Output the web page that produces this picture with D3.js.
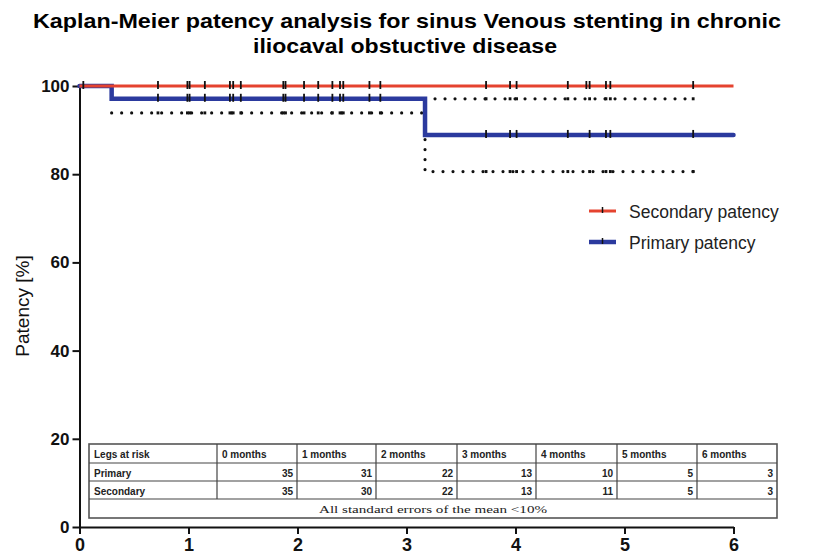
<!DOCTYPE html>
<meta charset="utf-8">
<title>Kaplan-Meier patency</title>
<style>
body { margin: 0; background: white; font-family: Arial, "Liberation Sans", sans-serif; }
svg { display: block; }
.axis path, .axis line { stroke: #111; stroke-width: 2px; }
.axis text { font-weight: bold; fill: #111; }
</style>
<body>
<div id="chart"></div>
<script src="https://d3js.org/d3.v7.min.js"></script>
<script>

// data
var monthTicks = [0, 1, 2, 3, 4, 5, 6];
var patencyTicks = [0, 20, 40, 60, 80, 100];

// step curves: time (months) where the value starts
var secondaryTimes = [0, 6];
var secondaryValues = [100, 100];
var primaryTimes = [0, 0.295, 3.17, 6];
var primaryValues = [100, 97.1, 88.9, 88.9];

// 95% CI of primary curve
var lowerTimes = [0.295, 3.17, 5.63];
var lowerValues = [93.9, 80.6, 80.6];
var upperTimes = [3.17, 5.63];
var upperValues = [97.1, 97.1];

// censored cases (months)
var secondaryCensor = [0.035, 0.72, 0.99, 1.01, 1.15, 1.38, 1.41, 1.48, 1.87, 1.89, 2.06, 2.19,
  2.32, 2.39, 2.42, 2.66, 2.76, 3.73, 3.95, 4.01, 4.48, 4.65, 4.68, 4.83, 4.87, 5.63];
var primaryCensor = [0.72, 0.99, 1.01, 1.15, 1.38, 1.41, 1.48, 1.87, 1.89, 2.06, 2.19,
  2.32, 2.39, 2.42, 2.66, 2.76, 3.73, 3.95, 4.01, 4.48, 4.68, 4.83, 4.87, 5.63];

// legs at risk table
var riskHeader = ["Legs at risk", "0 months", "1 months", "2 months", "3 months", "4 months", "5 months", "6 months"];
var riskPrimary = [35, 31, 22, 13, 10, 5, 3];
var riskSecondary = [35, 30, 22, 13, 11, 5, 3];
var riskNote = "All standard errors of the mean <10%";

var width = 816, height = 555;

var svg = d3.select("#chart").append("svg")
    .attr("width", width)
    .attr("height", height);

var x = d3.scaleLinear().domain([0, 6]).range([79.5, 733.5]);
var y = d3.scaleLinear().domain([0, 100]).range([527, 86]);

// title
svg.append("text")
    .attr("x", 407).attr("y", 28)
    .attr("text-anchor", "middle")
    .attr("textLength", 748).attr("lengthAdjust", "spacingAndGlyphs")
    .style("font-family", "'Liberation Sans Narrow', Arial, sans-serif")
    .style("font-weight", "bold").style("font-size", "21px")
    .text("Kaplan-Meier patency analysis for sinus Venous stenting in chronic");
svg.append("text")
    .attr("x", 405).attr("y", 53)
    .attr("text-anchor", "middle")
    .attr("textLength", 304).attr("lengthAdjust", "spacingAndGlyphs")
    .style("font-family", "'Liberation Sans Narrow', Arial, sans-serif")
    .style("font-weight", "bold").style("font-size", "21px")
    .text("iliocaval obstuctive disease");

// y label
svg.append("text")
    .attr("transform", "translate(29,306) rotate(-90)")
    .attr("text-anchor", "middle")
    .style("font-size", "19px").style("fill", "#111")
    .text("Patency [%]");

// axes
svg.append("g")
    .attr("class", "axis")
    .attr("transform", "translate(" + x(0) + ",0)")
    .call(d3.axisLeft(y).tickValues(patencyTicks).tickSize(7).tickSizeOuter(0).tickPadding(3))
    .selectAll("text").style("font-size", "17px");

svg.append("g")
    .attr("class", "axis")
    .attr("transform", "translate(0," + y(0) + ")")
    .call(d3.axisBottom(x).tickValues(monthTicks).tickFormat(d3.format("d"))
        .tickSize(7).tickSizeOuter(0).tickPadding(4))
    .selectAll("text").style("font-size", "18px");

// helpers
function pts(times, vals) {
  return times.map(function(t, i) { return [t, vals[i]]; });
}
var step = d3.line()
    .x(function(d) { return x(d[0]); })
    .y(function(d) { return y(d[1]); })
    .curve(d3.curveStepAfter);

function valueAt(times, vals, t) {
  var v = vals[0];
  for (var i = 0; i < times.length; i++) { if (times[i] <= t) v = vals[i]; }
  return v;
}

// confidence interval (dotted)
[[lowerTimes, lowerValues], [upperTimes, upperValues]].forEach(function(c) {
  svg.append("path")
      .attr("d", step(pts(c[0], c[1])))
      .attr("fill", "none")
      .attr("stroke", "#111")
      .attr("stroke-width", 3.2)
      .attr("stroke-linecap", "round")
      .attr("stroke-dasharray", "0,10");
  svg.selectAll(null)
      .data(primaryCensor.filter(function(t) { return t >= c[0][0] && t <= c[0][c[0].length - 1]; }))
      .enter().append("line")
      .attr("x1", function(d) { return x(d); }).attr("x2", function(d) { return x(d); })
      .attr("y1", function(d) { return y(valueAt(c[0], c[1], d)) - 1.5; })
      .attr("y2", function(d) { return y(valueAt(c[0], c[1], d)) + 1.5; })
      .attr("stroke", "#111").attr("stroke-width", 2.8);
});

// survival curves
svg.append("path")
    .attr("d", step(pts(primaryTimes, primaryValues)))
    .attr("fill", "none")
    .attr("stroke", "#2b3a9e")
    .attr("stroke-width", 4.5)
    .attr("stroke-linecap", "round");

svg.append("path")
    .attr("d", step(pts(secondaryTimes, secondaryValues)))
    .attr("fill", "none")
    .attr("stroke", "#e5432f")
    .attr("stroke-width", 2.8);

// censor ticks
function censor(list, times, vals) {
  svg.selectAll(null)
      .data(list)
      .enter().append("line")
      .attr("x1", function(d) { return x(d); }).attr("x2", function(d) { return x(d); })
      .attr("y1", function(d) { return y(valueAt(times, vals, d)) - 5; })
      .attr("y2", function(d) { return y(valueAt(times, vals, d)) + 3; })
      .attr("stroke", "#111").attr("stroke-width", 1.8);
}
censor(secondaryCensor, secondaryTimes, secondaryValues);
censor(primaryCensor, primaryTimes, primaryValues);

// legend
var legend = [
  {name: "Secondary patency", color: "#e5432f", w: 3, y: 211},
  {name: "Primary patency", color: "#2b3a9e", w: 4.5, y: 242}
];
legend.forEach(function(l) {
  svg.append("line")
      .attr("x1", 589).attr("x2", 616).attr("y1", l.y).attr("y2", l.y)
      .attr("stroke", l.color).attr("stroke-width", l.w);
  svg.append("line")
      .attr("x1", 602.5).attr("x2", 602.5).attr("y1", l.y - 4).attr("y2", l.y + 2)
      .attr("stroke", "#111").attr("stroke-width", 1.5);
  svg.append("text")
      .attr("x", 629).attr("y", l.y + 7)
      .style("font-size", "17.5px").style("fill", "#222")
      .text(l.name);
});

// risk table
var colX = [89, 217, 297, 376, 457, 536, 617, 697, 777];
var rowY = [444, 463, 481, 499, 518];
var table = svg.append("g").style("font-size", "10px").style("font-weight", "bold").style("fill", "#222");

table.append("rect")
    .attr("x", colX[0]).attr("y", rowY[0])
    .attr("width", colX[8] - colX[0]).attr("height", rowY[4] - rowY[0])
    .attr("fill", "white").attr("stroke", "#555").attr("stroke-width", 1.6);

rowY.slice(1, 4).forEach(function(ry) {
  table.append("line").attr("x1", colX[0]).attr("x2", colX[8]).attr("y1", ry).attr("y2", ry)
      .attr("stroke", "#444").attr("stroke-width", 1.2);
});
colX.slice(1, 8).forEach(function(cx) {
  table.append("line").attr("x1", cx).attr("x2", cx).attr("y1", rowY[0]).attr("y2", rowY[3])
      .attr("stroke", "#444").attr("stroke-width", 1.2);
});

riskHeader.forEach(function(h, i) {
  table.append("text").attr("x", colX[i] + 5).attr("y", rowY[0] + 14).text(h);
});
[["Primary", riskPrimary], ["Secondary", riskSecondary]].forEach(function(r, j) {
  table.append("text").attr("x", colX[0] + 5).attr("y", rowY[j + 1] + 14).text(r[0]);
  r[1].forEach(function(v, i) {
    table.append("text").attr("x", colX[i + 2] - 4).attr("y", rowY[j + 1] + 14)
        .attr("text-anchor", "end").text(v);
  });
});
table.append("text")
    .attr("x", (colX[0] + colX[8]) / 2).attr("y", rowY[3] + 14)
    .attr("text-anchor", "middle")
    .attr("textLength", 228).attr("lengthAdjust", "spacingAndGlyphs")
    .style("font-family", "'Liberation Serif', 'Times New Roman', serif")
    .style("font-weight", "normal").style("font-size", "10px")
    .text(riskNote);

</script>
</body>
